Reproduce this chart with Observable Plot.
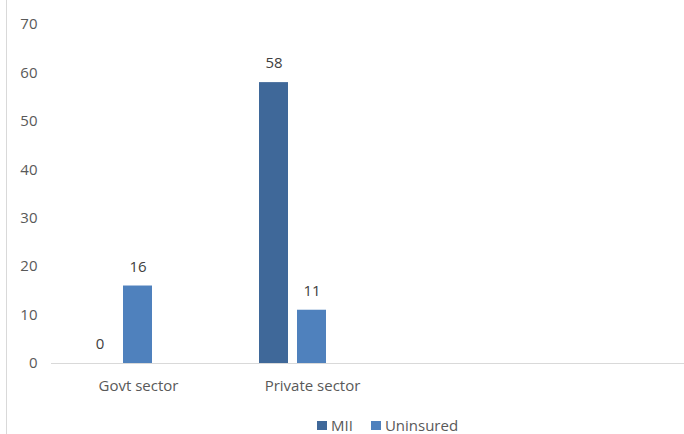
<!DOCTYPE html>
<html>
<head>
<meta charset="utf-8">
<script src="https://cdn.jsdelivr.net/npm/d3@7"></script>
<script src="https://cdn.jsdelivr.net/npm/@observablehq/plot@0.6"></script>
<style>
  html, body { margin: 0; padding: 0; background: #fff; overflow: hidden; }
  #wrap { position: relative; width: 684px; height: 434px; overflow: hidden; font-family: "Open Sans", Lato, sans-serif; }
  #border { position: absolute; left: 6px; top: 0; width: 1px; height: 434px; background: #d9d9d9; }
  #legend { position: absolute; left: 317px; top: 415px; height: 20px; display: flex; align-items: center; font-size: 15px; color: #595959; }
  .sw { display: inline-block; width: 10px; height: 9px; margin-right: 4px; }
  .item { display: inline-flex; align-items: center; margin-right: 18px; }
  #chart svg { max-width: none; overflow: hidden; }
</style>
</head>
<body>
<div id="wrap"><div id="border"></div><div id="chart"></div><div id="legend"></div></div>
<script>
const categories = ["Govt sector", "Private sector"];
const blankCategories = ["\u200b", "\u200b\u200b"];
const series = ["MII", "Uninsured"];
const blankSeries = ["(none)"];
const miiValues = [0, 58];
const uninsuredValues = [16, 11];
const yTicks = [0, 10, 20, 30, 40, 50, 60, 70];
const colors = ["#3f6899", "#4f81bd"];

const data = [];
categories.forEach((c, i) => {
  data.push({category: c, series: "MII", value: miiValues[i]});
  data.push({category: c, series: "Uninsured", value: uninsuredValues[i]});
});
// empty categories (no values) so that their facets exist and the baseline spans them
blankCategories.forEach(c => data.push({category: c, series: blankSeries[0], value: null}));

const chart = Plot.plot({
  width: 684,
  height: 400,
  marginLeft: 51,
  marginRight: 0,
  marginTop: 24,
  marginBottom: 37,
  style: {fontFamily: "'Open Sans', Lato, sans-serif", fontSize: "15px", color: "#595959", background: "transparent"},
  facet: {data, x: "category"},
  fx: {
    domain: [...categories, ...blankCategories],
    range: [51, 51 + 174 * 4],
    paddingInner: 0, paddingOuter: 0,
    tickSize: 0, tickPadding: 17, label: null,
    tickFormat: d => categories.includes(d) ? d : ""
  },
  x: {domain: [...series, ...blankSeries], paddingInner: 0.23, paddingOuter: 0.85, axis: null},
  y: {domain: [0, 70], ticks: yTicks, tickSize: 0, tickPadding: 14, label: null},
  color: {domain: series, range: colors},
  marks: [
    Plot.ruleY([0], {stroke: "#d9d9d9", strokeWidth: 1}),
    Plot.barY(data, {x: "series", y: "value", fill: "series"}),
    Plot.text(data, {x: "series", y: "value", text: d => d.value == null ? "" : String(d.value), dy: -19, fill: "#404040", fontSize: 15})
  ]
});
chart.querySelectorAll("text").forEach(t => { if (t.getAttribute("font-size") == null) t.setAttribute("font-size", "15px"); });
document.getElementById("chart").appendChild(chart);

const legend = document.getElementById("legend");
series.forEach((s, i) => {
  const item = document.createElement("span");
  item.className = "item";
  const sw = document.createElement("span");
  sw.className = "sw";
  sw.style.background = colors[i];
  item.appendChild(sw);
  item.appendChild(document.createTextNode(s));
  legend.appendChild(item);
});
</script>
</body>
</html>
